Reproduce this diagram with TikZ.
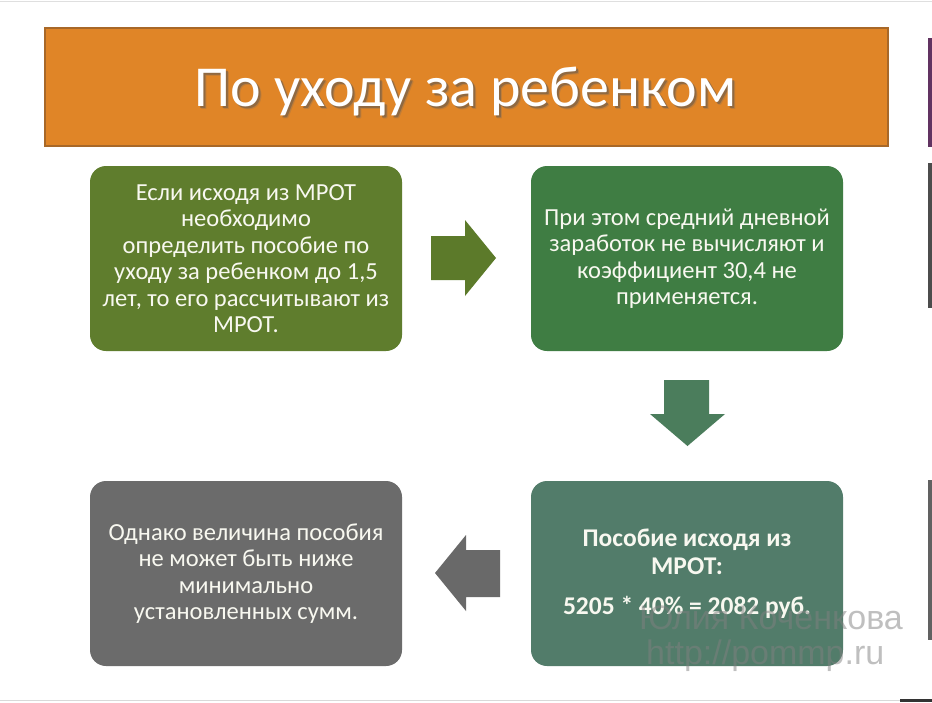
\documentclass[tikz,border=0pt]{standalone}
\usepackage{fontspec}
\setmainfont{Carlito}
\newfontfamily\wmfont{Liberation Sans}
\definecolor{orangebar}{RGB}{224,133,39}
\definecolor{orangeedge}{RGB}{168,104,40}
\definecolor{olivebox}{RGB}{95,125,45}
\definecolor{greenbox}{RGB}{63,125,67}
\definecolor{tealbox}{RGB}{82,124,106}
\definecolor{graybox}{RGB}{107,107,107}
\definecolor{olivearrow}{RGB}{92,122,42}
\definecolor{tealarrow}{RGB}{75,125,92}
\definecolor{grayarrow}{RGB}{105,105,105}
\definecolor{boxtext}{RGB}{248,248,240}
\begin{document}
\begin{tikzpicture}[x=1pt,y=-1pt,
  box/.style={rounded corners=16pt, minimum width=312pt, minimum height=185pt,
    align=center, text=boxtext, inner sep=0pt,
    font=\fontsize{24.5}{26.5}\selectfont},
  titlefont/.style={font=\fontsize{58}{62}\selectfont, anchor=base, inner sep=0pt},
  wmark/.style={anchor=west, text=black!50, opacity=0.5, inner sep=0pt,
    font=\wmfont\fontsize{34}{36}\selectfont}]
\useasboundingbox (0,0) rectangle (932,702);
\fill[white] (0,0) rectangle (932,702);
% screenshot edges
\draw[gray!25, line width=1pt] (0,1.5) -- (932,1.5);
\draw[gray!30, line width=1pt] (0,700.5) -- (932,700.5);
\fill[black!80] (900,699) rectangle (932,702);
\fill[black!55!violet!80] (928,38) rectangle (932,147);
\fill[black!70] (928,163) rectangle (932,308);
\fill[black!62] (928,480) rectangle (932,640);
% title bar
\node[draw=orangeedge, line width=1.2pt, fill=orangebar, minimum width=843pt,
  minimum height=118pt, inner sep=0pt] (title) at (466.5,87) {};
\node[titlefont, text=black!70, opacity=0.45] at (467.5,108) {По уходу за ребенком};
\node[titlefont, text=black!60, opacity=0.25] at (468.5,109) {По уходу за ребенком};
\node[titlefont, text=white] (titletext) at (465.5,106) {По уходу за ребенком};
% boxes
\node[box, fill=olivebox] (b1) at (246,258.5) {Если исходя из МРОТ\\ необходимо\\ определить пособие по\\ уходу за ребенком до 1,5\\ лет, то его рассчитывают из\\ МРОТ.};
\node[box, fill=greenbox] (b2) at (687,258.5) {При этом средний дневной\\ заработок не вычисляют и\\ коэффициент 30,4 не\\ применяется.};
\node[box, fill=tealbox, font=\bfseries\fontsize{25.5}{28}\selectfont] (b3) at (687,573.5) {Пособие исходя из\\ МРОТ:\\[12pt] 5205 * 40\% = 2082 руб.};
\node[box, fill=graybox] (b4) at (246,573.5) {Однако величина пособия\\ не может быть ниже\\ минимально\\ установленных сумм.};
% block arrows
\fill[olivearrow] (431,236) -- (465,236) -- (465,220) -- (496,258) -- (465,296) -- (465,280) -- (431,280) -- cycle;
\fill[tealarrow] (664,380) -- (709,380) -- (709,414) -- (725,414) -- (687.5,446) -- (650,414) -- (664,414) -- cycle;
\fill[grayarrow] (500,550) -- (466,550) -- (466,535) -- (435,573) -- (466,611) -- (466,597) -- (500,597) -- cycle;
% watermark
\node[wmark] (wm1) at (639,618) {Юлия Коченкова};
\node[wmark] (wm2) at (646,656) {http://pommp.ru};
\end{tikzpicture}
\end{document}
